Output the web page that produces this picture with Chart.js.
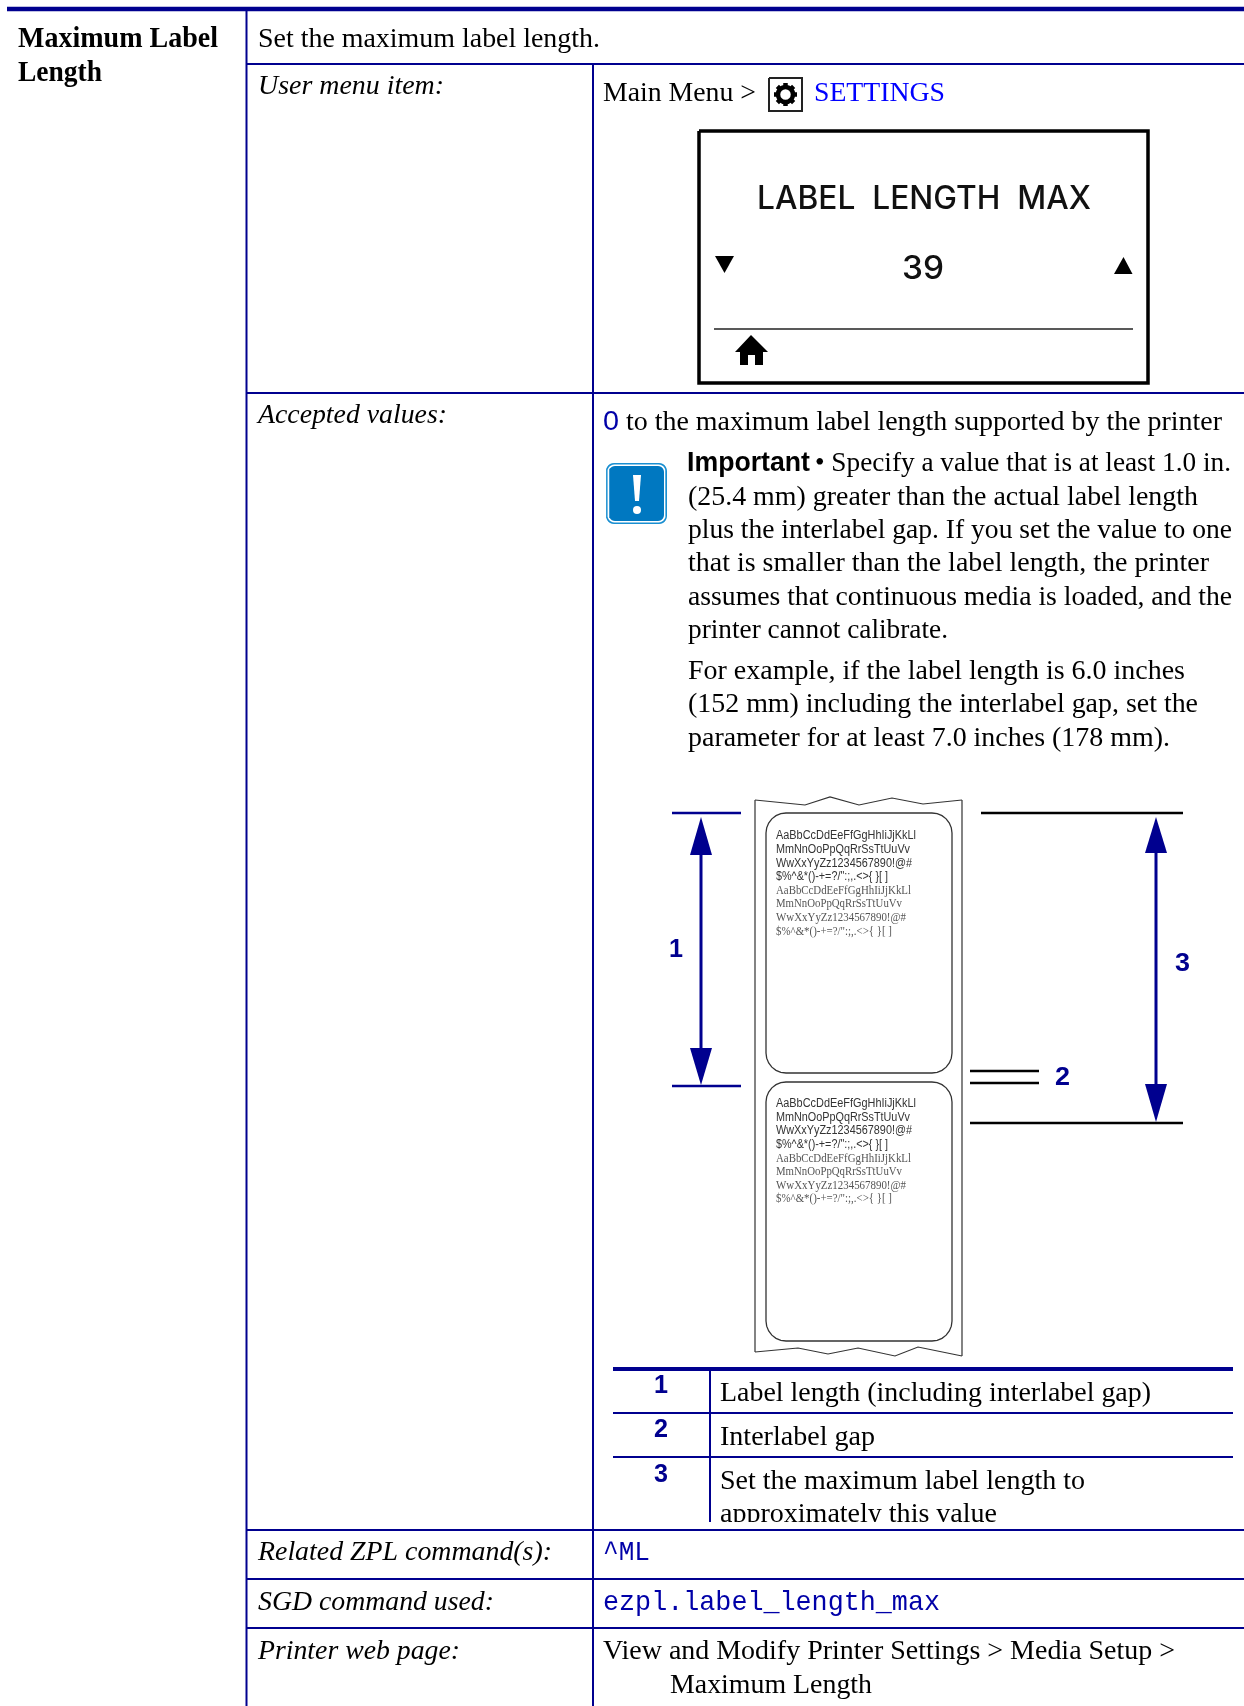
<!DOCTYPE html>
<html>
<head>
<meta charset="utf-8">
<title>Maximum Label Length</title>
<script src="https://cdn.jsdelivr.net/npm/chart.js@4/dist/chart.umd.js"></script>
<style>
    html, body { margin: 0; padding: 0; background: #fff; }
    canvas { display: block; }
</style>
</head>
<body>
<canvas id="pageChart" width="1244" height="1706"></canvas>
<script>
// the page is one scatter chart: axis units are page pixels, y runs downwards
const pageWidth = 1244;
const pageHeight = 1706;

const NAVY = '#00008f';

// table rules
const topRule = [[7, 9], [1244, 9]];
const tableVerticals = [
    [[246.5, 10], [246.5, 1706]],
    [[593, 64], [593, 1706]]
];
const tableHorizontals = [
    [[246, 64], [1244, 64]],
    [[246, 393], [1244, 393]],
    [[246, 1530], [1244, 1530]],
    [[246, 1579], [1244, 1579]],
    [[246, 1628], [1244, 1628]]
];
const legendTopRule = [[613, 1369], [1233, 1369]];
const legendRules = [
    [[613, 1413], [1233, 1413]],
    [[613, 1457], [1233, 1457]],
    [[710, 1369], [710, 1522]]
];

// printer screen
const screenBox = [[699, 131], [1148, 131], [1148, 383], [699, 383], [699, 131]];
const screenLine = [[714, 329], [1133, 329]];
const screenDown = [[715, 256], [734, 256], [724.5, 273], [715, 256]];
const screenUp = [[1114, 274], [1132.5, 274], [1123.5, 257], [1114, 274]];
const homeIcon = [[751, 335], [768, 352], [763, 352], [763, 365], [755, 365], [755, 355], [748, 355], [748, 365], [740, 365], [740, 352], [735, 352], [751, 335]];
const gearBox = [[769, 78], [802, 78], [802, 111], [769, 111], [769, 78]];
const gearCentre = [[785.5, 94.5]];

// label drawing
const paperTop = [[755, 800], [805, 805], [830, 797], [859, 805], [892, 798], [923, 804], [962, 800]];
const paperBottom = [[755, 1352], [798, 1348], [828, 1354], [858, 1348], [895, 1356], [918, 1347], [962, 1356]];
const paperSides = [
    [[755, 800], [755, 1352]],
    [[962, 800], [962, 1356]]
];
const labelBoxes = [[766, 813, 952, 1073], [766, 1082, 952, 1341]];

const extentLinesNavy = [
    [[672, 813], [741, 813]],
    [[672, 1086], [741, 1086]]
];
const extentLinesBlack = [
    [[981, 813], [1183, 813]],
    [[970, 1071], [1039, 1071]],
    [[970, 1083], [1039, 1083]],
    [[970, 1123], [1183, 1123]]
];
const arrowShafts = [
    [[701, 850], [701, 1050]],
    [[1156, 850], [1156, 1086]]
];
const arrowHeads = [
    [[701, 817], [712, 855], [690, 855], [701, 817]],
    [[701, 1085], [712, 1048], [690, 1048], [701, 1085]],
    [[1156, 817], [1167, 853], [1145, 853], [1156, 817]],
    [[1156, 1122], [1167, 1084], [1145, 1084], [1156, 1122]]
];

// "important" badge
const badgeOuter = [606, 463, 667, 524];
const badgeGap = [607.5, 464.5, 665.5, 522.5];
const badgeInner = [609, 466, 664, 521];
const badgeBar = [[633, 475], [641, 475], [639, 501], [635, 501], [633, 475]];
const badgeDot = [[637, 510]];

// text rows: text, left, right, baseline
const headingRows = [
    ['Maximum Label', 18, 218, 47],
    ['Length', 18, 102, 81]
];
const italicRows = [
    ['User menu item:', 258, 444, 94],
    ['Accepted values:', 258, 447, 423],
    ['Related ZPL command(s):', 258, 552, 1560],
    ['SGD command used:', 258, 494, 1610],
    ['Printer web page:', 258, 460, 1659]
];
const bodyRows = [
    ['Set the maximum label length.', 258, 600, 47],
    ['Main Menu >', 603, 756, 101],
    ['to the maximum label length supported by the printer', 626, 1222, 430],
    ['\u2022 Specify a value that is at least 1.0 in.', 815, 1231, 471],
    ['(25.4 mm) greater than the actual label length', 688, 1198, 505],
    ['plus the interlabel gap. If you set the value to one', 688, 1232, 538],
    ['that is smaller than the label length, the printer', 688, 1209, 571],
    ['assumes that continuous media is loaded, and the', 688, 1232, 605],
    ['printer cannot calibrate.', 688, 948, 638],
    ['For example, if the label length is 6.0 inches', 688, 1185, 679],
    ['(152 mm) including the interlabel gap, set the', 688, 1198, 712],
    ['parameter for at least 7.0 inches (178 mm).', 688, 1170, 746],
    ['Label length (including interlabel gap)', 720, 1151, 1401],
    ['Interlabel gap', 720, 875, 1445],
    ['Set the maximum label length to', 720, 1085, 1489],
    ['View and Modify Printer Settings > Media Setup >', 603, 1175, 1659],
    ['Maximum Length', 670, 872, 1693]
];
const clippedRows = [
    ['approximately this value', 720, 997, 1522]
];
const linkRows = [
    ['SETTINGS', 814, 945, 101]
];
const zeroRows = [
    ['0', 603, 619, 430]
];
const commandRows = [
    ['^ML', 603, 650, 1560],
    ['ezpl.label_length_max', 603, 940, 1610]
];
const strongRows = [
    ['Important', 687, 810, 471]
];
const calloutRows = [
    ['1', 669, 683, 957],
    ['2', 1055, 1070, 1085],
    ['3', 1175, 1190, 971],
    ['1', 654, 668, 1393],
    ['2', 654, 668, 1437],
    ['3', 654, 668, 1482]
];
const screenRows = [
    ['LABEL  LENGTH  MAX', 757, 1091, 209],
    ['39', 902, 944, 279]
];
const sansSampleLines = ['AaBbCcDdEeFfGgHhIiJjKkLl', 'MmNnOoPpQqRrSsTtUuVv', 'WwXxYyZz1234567890!@#', '$%^&*()-+=?/":;,.<>{ }[ ]'];
const sansSampleRight = [916, 910, 912, 888];
const serifSampleRight = [911, 902, 906, 892];
const sampleBaselinesA = [839, 853, 867, 880, 894, 907, 921, 935];
const sampleBaselinesB = [1107, 1121, 1134, 1148, 1162, 1175, 1189, 1202];
const sampleLeft = 776;

function toPoints(path) {
    return path.map(p => ({ x: p[0], y: p[1] }));
}

function stroke(path, color, width) {
    return {
        data: toPoints(path),
        showLine: true,
        borderColor: color,
        borderWidth: width,
        pointRadius: 0,
        fill: false
    };
}

function solid(path, color) {
    return {
        data: toPoints(path),
        showLine: true,
        borderColor: color,
        borderWidth: 0,
        backgroundColor: color,
        pointRadius: 0,
        fill: 'shape'
    };
}

function marker(path, style, radius, borderColor, width, fillColor) {
    return {
        data: toPoints(path),
        showLine: false,
        pointStyle: style,
        pointRadius: radius,
        pointBorderColor: borderColor,
        pointBorderWidth: width,
        pointBackgroundColor: fillColor
    };
}

// outline of a rounded rectangle
function roundedBox(box, radius) {
    const [l, t, r, b] = box;
    const corners = [[r - radius, t + radius, -90], [r - radius, b - radius, 0], [l + radius, b - radius, 90], [l + radius, t + radius, 180]];
    const path = [];
    corners.forEach(c => {
        for (let deg = 0; deg <= 90; deg += 15) {
            const a = (c[2] + deg) * Math.PI / 180;
            path.push([c[0] + radius * Math.cos(a), c[1] + radius * Math.sin(a)]);
        }
    });
    path.push(path[0]);
    return path;
}

// first dataset ends up on top
const datasets = [
    stroke(topRule, NAVY, 4.5),
    stroke(legendTopRule, NAVY, 4),
    ...tableVerticals.map(p => stroke(p, NAVY, 2)),
    ...tableHorizontals.map(p => stroke(p, NAVY, 2)),
    ...legendRules.map(p => stroke(p, NAVY, 2)),

    stroke(screenBox, '#000', 3.5),
    stroke(screenLine, '#222', 1.5),
    solid(screenDown, '#000'),
    solid(screenUp, '#000'),
    solid(homeIcon, '#000'),
    marker(gearCentre, 'circle', 7.5, '#000', 4.5, '#fff'),
    marker(gearCentre, 'cross', 11.5, '#000', 4.5, '#000'),
    marker(gearCentre, 'crossRot', 11.5, '#000', 4.5, '#000'),
    stroke(gearBox, '#222', 2),

    solid(badgeBar, '#fff'),
    marker(badgeDot, 'circle', 4, '#fff', 0, '#fff'),
    solid(roundedBox(badgeInner, 6), '#0078c1'),
    solid(roundedBox(badgeGap, 7), '#fff'),
    solid(roundedBox(badgeOuter, 8), '#1a8fd1'),

    ...arrowHeads.map(p => solid(p, NAVY)),
    ...arrowShafts.map(p => stroke(p, NAVY, 3)),
    ...extentLinesNavy.map(p => stroke(p, NAVY, 2.5)),
    ...extentLinesBlack.map(p => stroke(p, '#000', 2.5)),

    ...labelBoxes.map(b => stroke(roundedBox(b, 20), '#333', 1.3)),
    stroke(paperTop, '#333', 1.2),
    stroke(paperBottom, '#333', 1.2),
    ...paperSides.map(p => stroke(p, '#333', 1.2))
];

const SERIF = '"Liberation Serif", serif';
const SANS = '"Liberation Sans", sans-serif';
const MONO = '"Liberation Mono", monospace';

const textGroups = [
    { rows: headingRows, font: 'bold 29px ' + SERIF, color: '#000' },
    { rows: italicRows, font: 'italic 28px ' + SERIF, color: '#000' },
    { rows: bodyRows, font: '28px ' + SERIF, color: '#000' },
    { rows: clippedRows, font: '28px ' + SERIF, color: '#000', clipBottom: 1522 },
    { rows: linkRows, font: '28px ' + SERIF, color: '#0000ff' },
    { rows: zeroRows, font: '28px ' + SANS, color: '#0000a8' },
    { rows: commandRows, font: '28px ' + MONO, color: '#0000a8' },
    { rows: strongRows, font: 'bold 27px ' + SANS, color: '#000' },
    { rows: calloutRows, font: 'bold 25px ' + SANS, color: NAVY },
    { rows: screenRows, font: '500 32px Inter, sans-serif', color: '#111' },
    {
        rows: sansSampleLines.map((t, i) => [t, sampleLeft, sansSampleRight[i], sampleBaselinesA[i]])
            .concat(sansSampleLines.map((t, i) => [t, sampleLeft, sansSampleRight[i], sampleBaselinesB[i]])),
        font: '12.5px ' + SANS, color: '#333'
    },
    {
        rows: sansSampleLines.map((t, i) => [t, sampleLeft, serifSampleRight[i], sampleBaselinesA[i + 4]])
            .concat(sansSampleLines.map((t, i) => [t, sampleLeft, serifSampleRight[i], sampleBaselinesB[i + 4]])),
        font: '12.5px ' + SERIF, color: '#555'
    }
];

const pageText = {
    id: 'pageText',
    afterDatasetsDraw(chart) {
        const { ctx, scales } = chart;
        textGroups.forEach(group => {
            ctx.save();
            ctx.font = group.font;
            ctx.fillStyle = group.color;
            ctx.textBaseline = 'alphabetic';
            if (group.clipBottom) {
                ctx.beginPath();
                ctx.rect(0, 0, chart.width, scales.y.getPixelForValue(group.clipBottom));
                ctx.clip();
            }
            group.rows.forEach(row => {
                const left = scales.x.getPixelForValue(row[1]);
                const right = scales.x.getPixelForValue(row[2]);
                const base = scales.y.getPixelForValue(row[3]);
                // squeeze each line to the width it has in the scan
                ctx.save();
                ctx.translate(left, base);
                ctx.scale((right - left) / ctx.measureText(row[0]).width, 1);
                ctx.fillText(row[0], 0, 0);
                ctx.restore();
            });
            ctx.restore();
        });
    }
};

new Chart(document.getElementById('pageChart').getContext('2d'), {
    type: 'scatter',
    data: { datasets },
    options: {
        responsive: false,
        animation: false,
        // autoPadding would inset the page by the largest marker radius
        layout: { padding: 0, autoPadding: false },
        scales: {
            x: { type: 'linear', display: false, min: 0, max: pageWidth },
            y: { type: 'linear', display: false, min: 0, max: pageHeight, reverse: true }
        },
        plugins: {
            legend: { display: false },
            title: { display: false },
            tooltip: { enabled: false }
        }
    },
    plugins: [pageText]
});
</script>
</body>
</html>
